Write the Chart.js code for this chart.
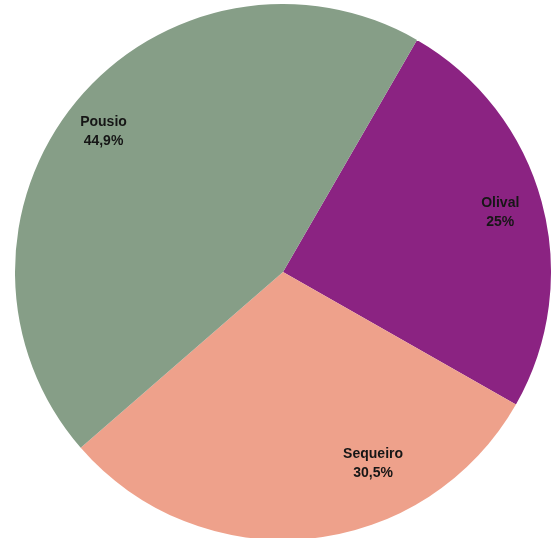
<!DOCTYPE html>
<html>
<head>
<meta charset="utf-8">
<script src="https://cdn.jsdelivr.net/npm/chart.js@4"></script>
<style>
html,body{margin:0;padding:0;background:#fff;overflow:hidden;}
#wrap{width:554px;height:538px;position:relative;overflow:hidden;}
canvas{display:block;}
</style>
</head>
<body>
<div id="wrap"><canvas id="c" width="554" height="545"></canvas></div>
<script>
const categories = ["Olival", "Sequeiro", "Pousio"];
const values = [25, 30.5, 44.9];
const valueLabels = ["25%", "30,5%", "44,9%"];
const colors = ["#8b2382", "#eea18b", "#869e87"];

// label placement: angle shift (deg) from slice middle, radial fraction
const labelPlacement = [
  {shift: 0, frac: 0.84},
  {shift: -19.5, frac: 0.79},
  {shift: -1.5, frac: 0.85}
];

const labelPlugin = {
  id: 'sliceLabels',
  afterDatasetsDraw(chart) {
    const ctx = chart.ctx;
    const meta = chart.getDatasetMeta(0);
    ctx.save();
    ctx.fillStyle = '#161616';
    ctx.font = 'bold 14px "Liberation Sans", Arial, sans-serif';
    ctx.textAlign = 'center';
    ctx.textBaseline = 'middle';
    meta.data.forEach((arc, i) => {
      const p = arc.getProps(['x','y','startAngle','endAngle','outerRadius'], true);
      const mid = (p.startAngle + p.endAngle) / 2 + labelPlacement[i].shift * Math.PI / 180;
      const r = p.outerRadius * labelPlacement[i].frac;
      const x = p.x + Math.cos(mid) * r;
      const y = p.y + Math.sin(mid) * r;
      ctx.fillText(categories[i], x, y - 9.5);
      ctx.fillText(valueLabels[i], x, y + 9.5);
    });
    ctx.restore();
  }
};

new Chart(document.getElementById('c'), {
  type: 'pie',
  data: {
    labels: categories,
    datasets: [{
      data: values,
      backgroundColor: colors,
      borderWidth: 0
    }]
  },
  options: {
    responsive: false,
    animation: false,
    rotation: 30,
    layout: {padding: {left: 15, right: 3, top: 4, bottom: 5}},
    plugins: {
      legend: {display: false},
      tooltip: {enabled: false},
      title: {display: false}
    }
  },
  plugins: [labelPlugin]
});
</script>
</body>
</html>
